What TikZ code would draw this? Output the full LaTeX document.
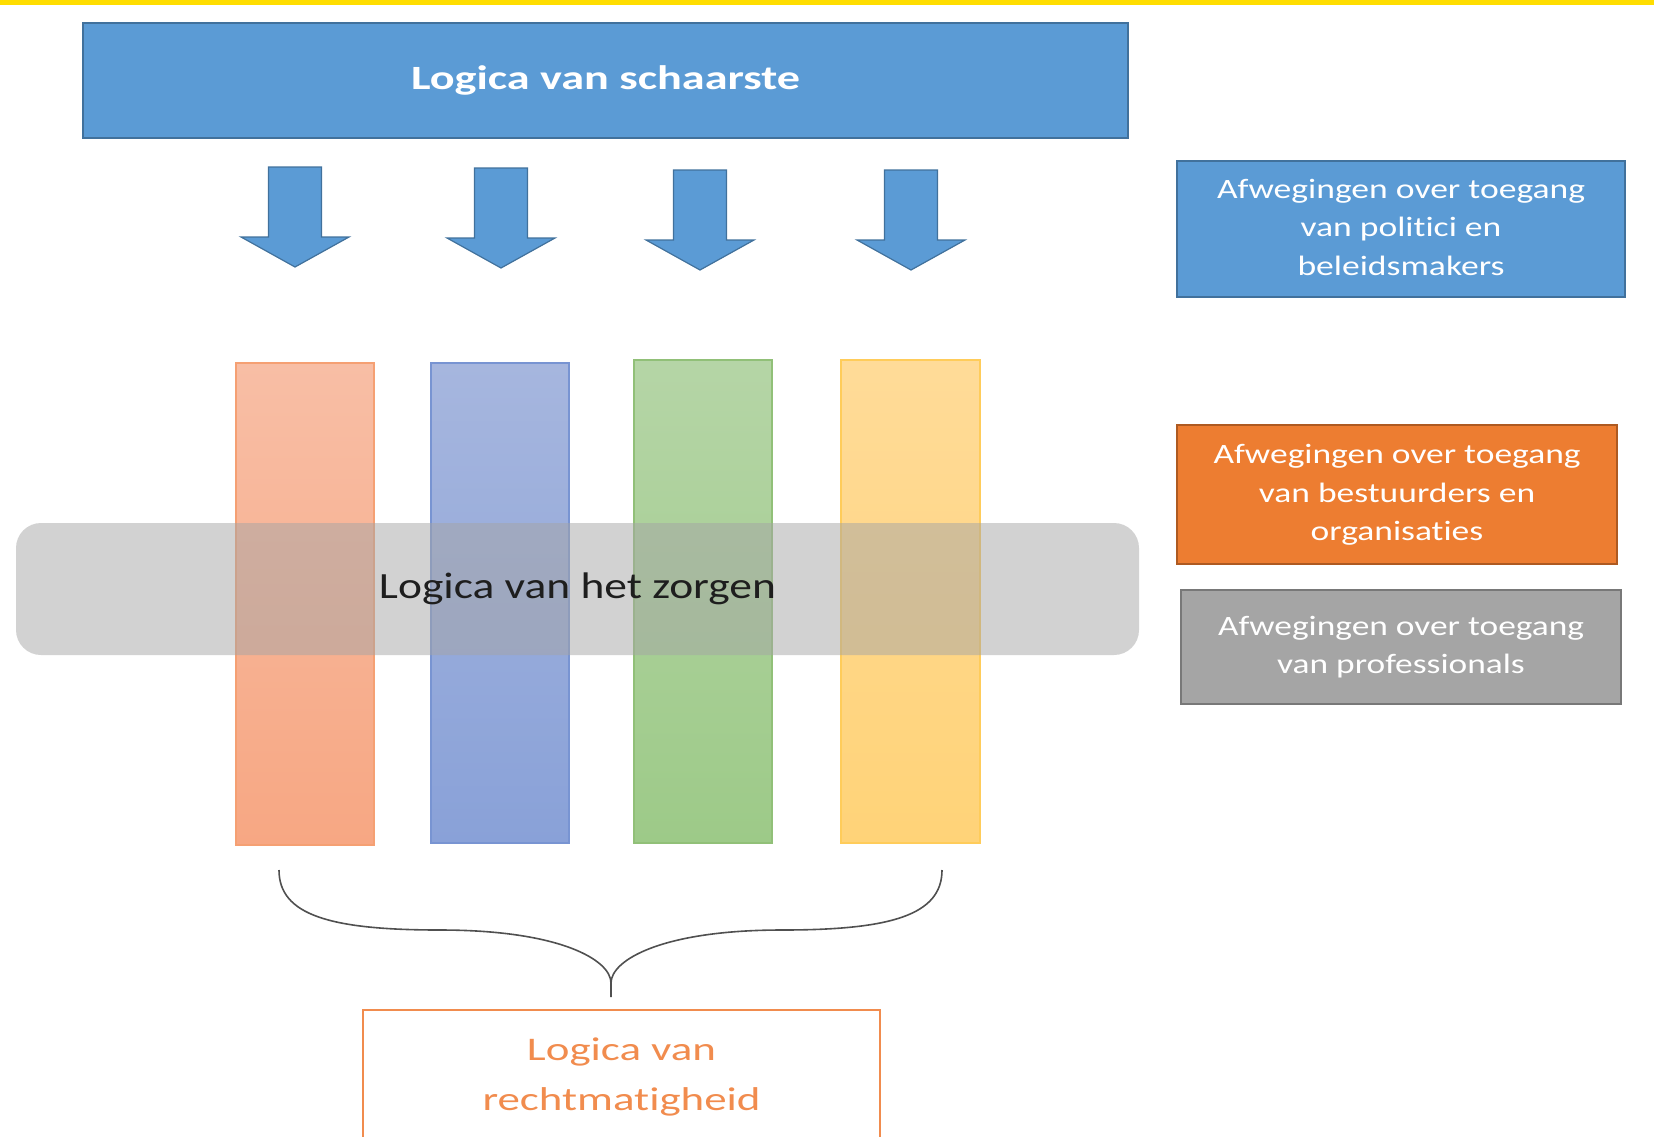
\documentclass[tikz,border=0pt]{standalone}
\usepackage{fontspec}
\setmainfont{Carlito}[Ligatures={NoCommon,NoDiscretionary,NoRare,NoContextual}]
\usepackage{graphicx}
\definecolor{accblue}{RGB}{91,155,213}
\definecolor{accblueD}{RGB}{65,113,156}
\definecolor{accorange}{RGB}{237,125,49}
\definecolor{accorangeD}{RGB}{174,90,33}
\definecolor{accgray}{RGB}{165,165,165}
\definecolor{accgrayD}{RGB}{120,120,120}
\definecolor{ylw}{RGB}{255,221,0}
\definecolor{bandgray}{RGB}{165,165,165}
\definecolor{darktext}{RGB}{30,30,30}
\definecolor{lorange}{RGB}{241,140,78}
\definecolor{braceline}{RGB}{80,80,80}
% bar colours
\definecolor{orT}{RGB}{248,190,165}\definecolor{orB}{RGB}{247,167,131}\definecolor{orL}{RGB}{245,160,115}
\definecolor{blT}{RGB}{166,182,222}\definecolor{blB}{RGB}{137,161,216}\definecolor{blL}{RGB}{120,148,210}
\definecolor{grT}{RGB}{181,213,166}\definecolor{grB}{RGB}{157,202,136}\definecolor{grL}{RGB}{145,192,120}
\definecolor{yeT}{RGB}{255,219,152}\definecolor{yeB}{RGB}{255,211,120}\definecolor{yeL}{RGB}{255,204,90}
\newcommand{\fitw}[2]{\resizebox{#1}{\height}{#2}}
\newcommand{\nolig}{\kern0pt}
\begin{document}
\begin{tikzpicture}[x=1pt,y=-1pt,
  solidbox/.style={draw=#1D, fill=#1, line width=2pt, inner sep=0pt, text=white},
  barbox/.style={inner sep=0pt, line width=2pt},
  downarrow/.style={fill=accblue, draw=accblueD, line width=1.2pt, line join=miter},
]
\useasboundingbox (0,0) rectangle (1654,1136);
\clip (0,0) rectangle (1654,1136);
\fill[ylw] (0,0) rectangle (1654,5);

% top box
\node[solidbox=accblue, minimum width=1045pt, minimum height=115pt] (scarcity) at (605.5,80.5)
  {\fitw{389pt}{\fontsize{34}{40}\selectfont\bfseries Logica van schaarste}};

% arrows
\foreach \c/\t [count=\i] in {295/167, 501/168, 700/170, 911/170}{
  \draw[downarrow] (\c-26.5,\t) -- (\c+26.5,\t) -- (\c+26.5,\t+70) -- (\c+54,\t+70)
     -- (\c,\t+100) -- (\c-54,\t+70) -- (\c-26.5,\t+70) -- cycle;
}

% bars
\node[barbox, draw=orL, top color=orT, bottom color=orB, minimum width=138pt, minimum height=482pt] (bar1) at (305,604) {};
\node[barbox, draw=blL, top color=blT, bottom color=blB, minimum width=138pt, minimum height=480pt] (bar2) at (500,603) {};
\node[barbox, draw=grL, top color=grT, bottom color=grB, minimum width=138pt, minimum height=483pt] (bar3) at (703,601.5) {};
\node[barbox, draw=yeL, top color=yeT, bottom color=yeB, minimum width=139pt, minimum height=483pt] (bar4) at (910.5,601.5) {};

% band
\node[fill=bandgray, fill opacity=0.5, text opacity=1, rounded corners=25pt, inner sep=0pt,
      minimum width=1123pt, minimum height=132pt, text=darktext] (care) at (577.5,589)
  {\fitw{397pt}{\fontsize{37}{44}\selectfont Logica van het zorgen}};

% right boxes
\node[solidbox=accblue, minimum width=448pt, minimum height=136pt] (politici) at (1401,229)
  {\fitw{368pt}{\fontsize{28}{38.5}\selectfont\begin{tabular}{@{}c@{}}Afwegingen over toegang\\van polit\nolig ici en\\beleidsmakers\end{tabular}}};
\node[solidbox=accorange, minimum width=440pt, minimum height=139pt] (bestuurders) at (1397,494.5)
  {\fitw{367pt}{\fontsize{28}{38.5}\selectfont\begin{tabular}{@{}c@{}}Afwegingen over toegang\\van bestuurders en\\organisat\nolig ies\end{tabular}}};
\node[solidbox=accgray, minimum width=440pt, minimum height=114pt] (professionals) at (1401,647)
  {\raisebox{5pt}{\fitw{366pt}{\fontsize{28}{38.5}\selectfont\begin{tabular}{@{}c@{}}Afwegingen over toegang\\van professionals\end{tabular}}}};

% bottom box
\node[draw=lorange, line width=2pt, inner sep=0pt, minimum width=517pt, minimum height=130pt, text=lorange] (recht) at (621.5,1075)
  {\raisebox{2pt}{\fitw{278pt}{\fontsize{33}{50}\selectfont\begin{tabular}{@{}c@{}}Logica van\\rechtmat\nolig igheid\end{tabular}}}};

% brace
\coordinate (bl) at (279,870);
\coordinate (br) at (942,870);
\coordinate (cusp) at (611,983);
\coordinate (tip) at (611,997);
\draw[braceline, line width=1.6pt]
  (bl) .. controls (279,915) and (330,930) .. (440,930)
       .. controls (560,930) and (611,960) .. (cusp)
  (br) .. controls (942,915) and (891,930) .. (782,930)
       .. controls (662,930) and (611,960) .. (cusp)
  (cusp) -- (tip);
\end{tikzpicture}
\end{document}
